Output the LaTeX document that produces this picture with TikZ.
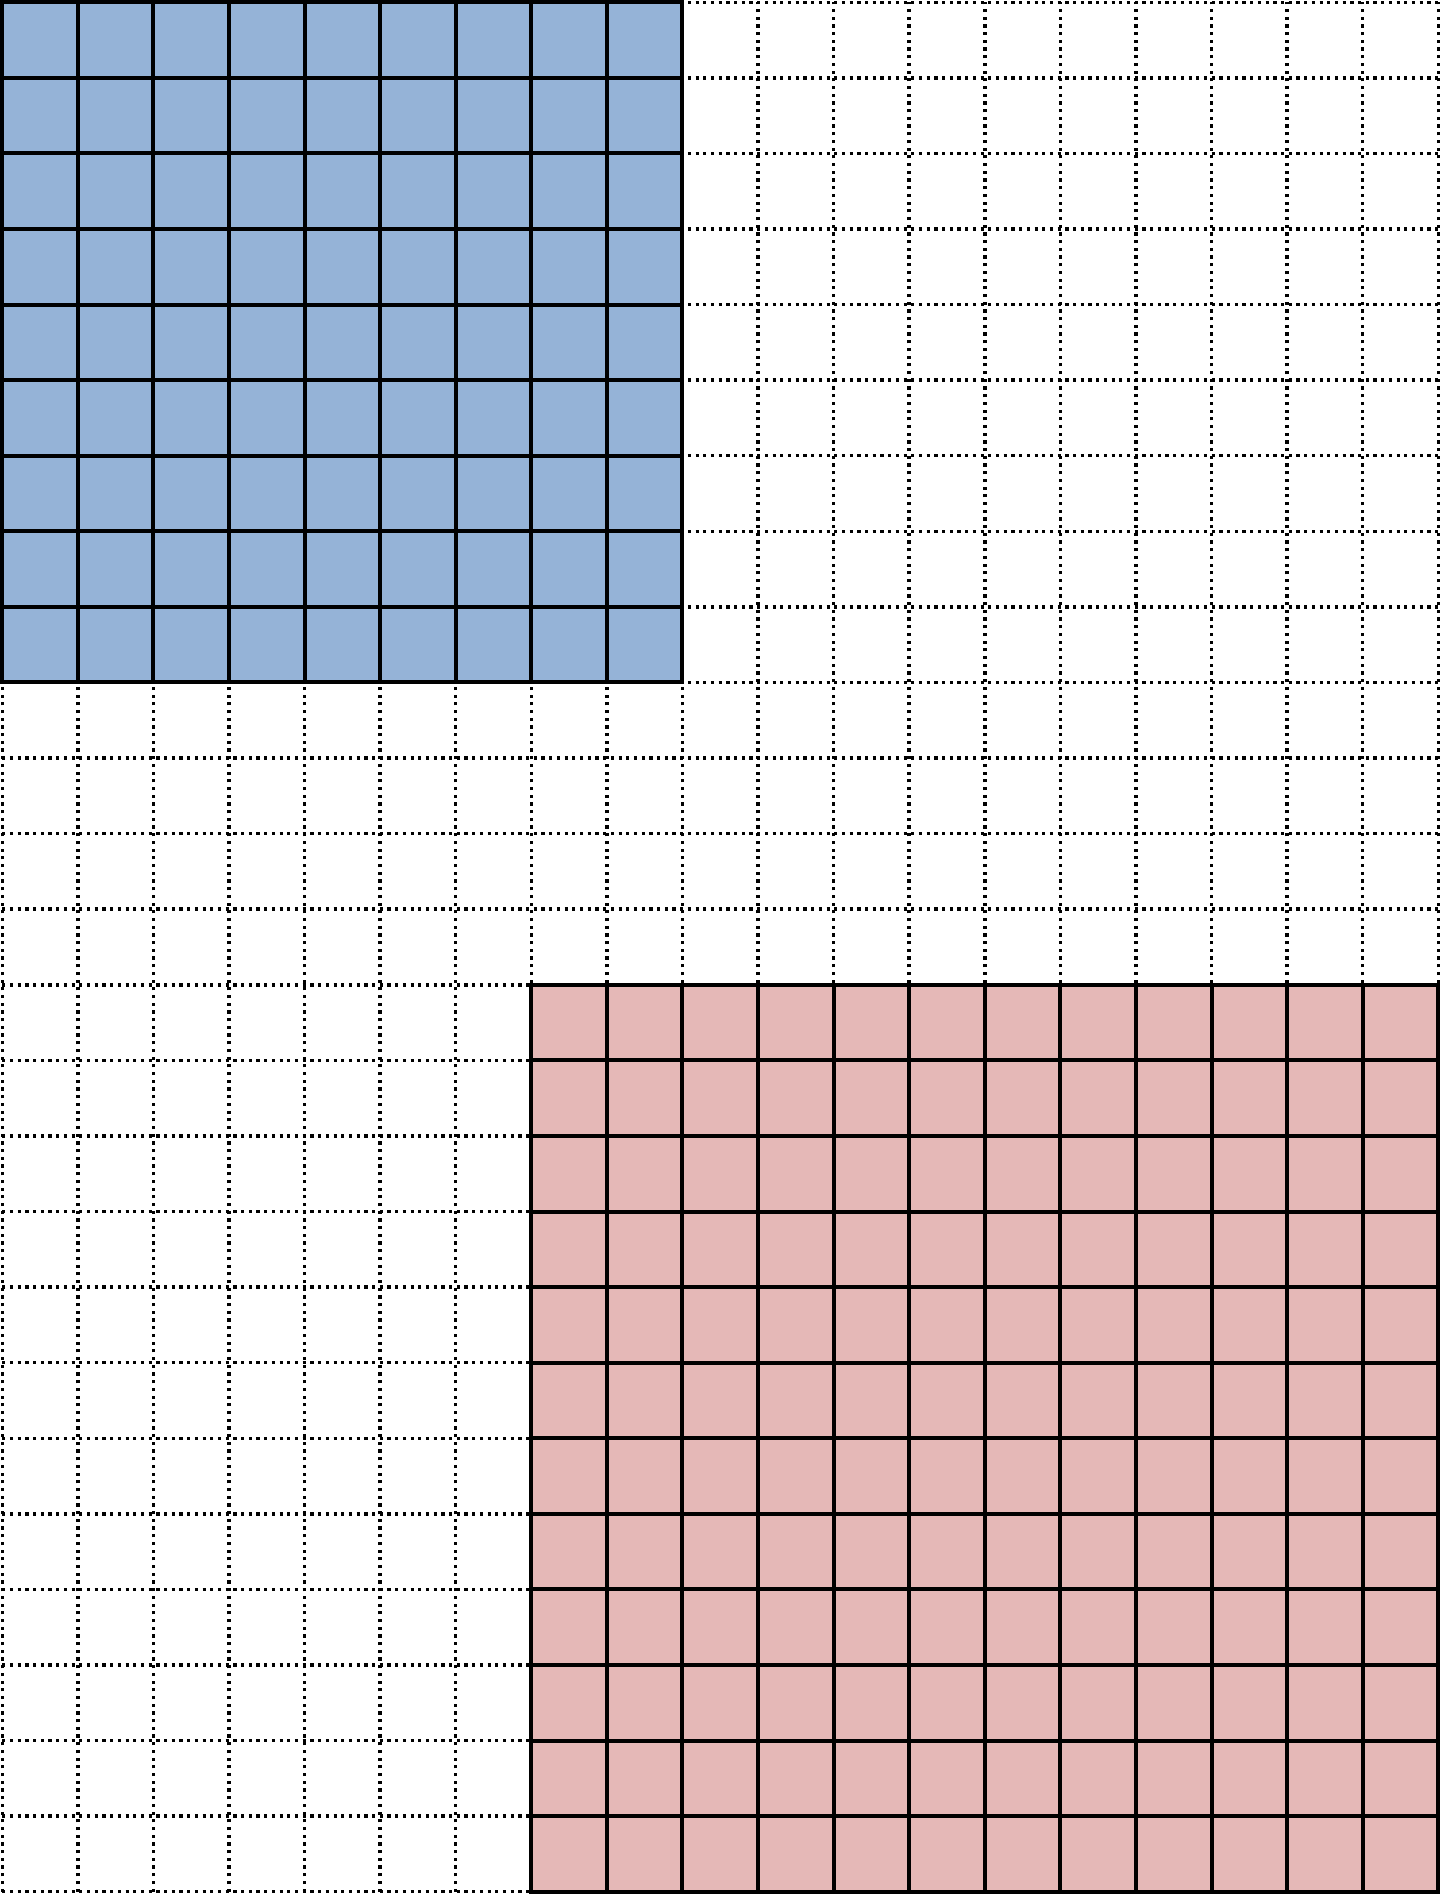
\documentclass[tikz,border=0pt]{standalone}
\usepackage{tikz}
\usepackage{xcolor}
\definecolor{blockblue}{HTML}{95B3D7}
\definecolor{blockpink}{HTML}{E5B8B7}

\begin{document}
\begin{tikzpicture}[
		dotgrid/.style={line width=1.3pt,dash pattern=on 1.2pt off 1.7pt},
		solidgrid/.style={line width=1.5pt,line cap=rect}]
		
		\useasboundingbox (-0.03,-0.03) rectangle (19.03,25.03);
		
		% dotted background
		\foreach \x in {0,...,19}
		\draw[dotgrid] (\x,0) -- (\x,25);
		\foreach \y in {0,...,25}
		\draw[dotgrid] (0,\y) -- (19,\y);
		
		% upper block
		\fill[blockblue] (0,16) rectangle (9,25);
		\draw[solidgrid] (0,16) grid (9,25);
		
		% lower block
		\fill[blockpink] (7,0) rectangle (19,12);
		\draw[solidgrid] (7,0) grid (19,12);
		
	\end{tikzpicture}
\end{document}
